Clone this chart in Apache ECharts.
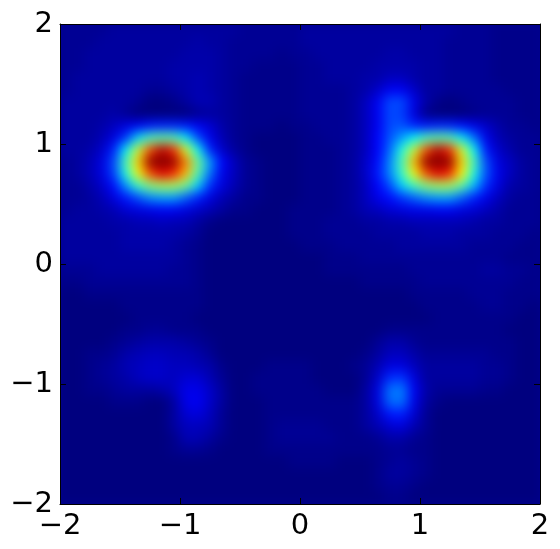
<!DOCTYPE html>
<html>
<head>
<meta charset="utf-8">
<title>heatmap</title>
<script src="https://cdn.jsdelivr.net/npm/echarts@6/dist/echarts.min.js"></script>
<style>
  html, body { margin: 0; padding: 0; background: #fff; }
  #clip { position: absolute; left: 60px; top: 24px; width: 480px; height: 480px; overflow: hidden; }
  #heat { position: absolute; left: -24px; top: -24px; width: 528px; height: 528px; filter: blur(6px); }
  #main { position: absolute; left: 0; top: 0; width: 560px; height: 549px; }
</style>
</head>
<body>
<div id="clip"><div id="heat"></div></div>
<div id="main"></div>
<script>
// values, top row first, 3-100 on the jet scale
var heatRows = [
  [5,5,5,5,6,6,6,6,6,6, 6,6,6,6,6,5,5,5,5,5, 6,6,6,6,6,6,6,6,6,6, 6,6,6,5,5,5,4,4,4,4],
  [5,5,5,6,6,6,6,6,6,6, 6,7,6,6,5,5,5,5,5,5, 6,6,6,6,6,6,6,6,6,6, 6,6,5,5,5,5,4,4,4,4],
  [5,5,6,6,6,6,6,6,6,6, 7,7,7,6,5,5,5,5,4,5, 5,6,6,6,6,6,6,7,7,6, 6,6,5,5,5,5,4,4,4,4],
  [5,5,6,6,6,6,6,6,6,7, 7,7,7,6,5,5,4,4,4,4, 5,5,6,6,6,6,7,7,7,7, 6,6,5,5,5,5,4,4,4,4],
  [5,6,6,6,6,6,6,6,6,7, 7,8,7,6,5,4,4,4,4,4, 5,5,6,6,6,7,7,9,9,7, 6,6,5,5,5,5,4,4,4,4],
  [5,6,6,6,6,6,6,5,5,6, 7,8,7,6,5,4,4,4,4,4, 5,5,5,5,6,7,10,14,14,10, 6,6,5,5,5,5,5,4,4,4],
  [6,6,6,6,6,6,5,2,2,4, 6,8,8,6,5,4,4,4,4,4, 5,5,5,5,6,9,14,22,22,13, 7,4,3,4,5,5,5,5,4,4],
  [6,6,6,6,7,5,3,0,0,1, 3,5,6,6,5,4,4,4,4,4, 5,5,5,5,6,9,14,22,21,12, 4,2,1,2,4,5,5,5,4,4],
  [6,6,6,7,9,12,14,17,18,18, 17,14,11,7,5,4,4,4,3,4, 4,5,5,5,6,9,14,22,23,18, 17,18,18,16,13,10,7,5,5,4],
  [6,6,6,8,12,20,36,46,48,47, 38,22,13,8,5,4,3,3,3,3, 4,4,5,5,6,9,15,23,30,39, 46,48,47,38,26,13,8,6,5,5],
  [6,6,7,10,18,38,58,80,94,84, 60,40,18,10,6,4,3,3,3,3, 4,4,4,5,6,9,15,25,42,58, 80,94,84,60,40,17,10,7,5,5],
  [5,6,8,12,22,46,68,98,100,98, 76,50,30,15,9,5,4,3,3,3, 4,4,4,5,6,10,16,28,46,70, 98,100,98,68,46,22,12,9,6,5],
  [5,6,8,12,21,42,62,80,90,84, 70,47,26,13,9,5,4,3,3,3, 4,4,4,5,6,10,17,28,44,62, 80,90,84,64,42,23,13,9,6,5],
  [5,5,7,10,16,29,44,52,55,55, 50,35,19,12,8,5,4,3,3,3, 4,4,4,5,6,9,15,22,35,45, 52,55,55,48,33,19,12,7,6,5],
  [5,5,6,8,12,17,22,28,30,30, 24,18,12,8,6,4,4,3,3,3, 4,4,4,5,6,9,13,16,20,24, 28,30,30,24,18,13,9,6,5,5],
  [5,6,6,7,8,11,12,13,14,14, 12,10,8,6,4,4,3,3,3,4, 4,4,4,5,6,8,9,11,12,13, 13,14,14,12,11,9,7,5,5,5],
  [6,6,6,6,7,7,8,8,9,8, 8,6,4,3,3,3,3,3,3,4, 4,4,5,5,5,6,6,7,7,8, 8,8,8,8,7,6,6,5,5,5],
  [6,6,6,6,6,7,7,7,7,7, 6,5,3,2,2,3,3,3,3,4, 4,4,5,5,5,5,6,6,6,6, 7,7,7,6,6,6,5,5,5,4],
  [6,6,6,6,6,7,7,7,7,6, 5,4,3,2,2,2,2,2,3,3, 4,4,4,5,5,5,5,5,6,6, 6,6,6,6,5,5,5,5,4,4],
  [6,6,6,6,6,6,6,6,6,6, 5,4,3,2,2,2,2,2,2,3, 3,3,4,4,4,5,5,5,5,5, 5,5,5,5,5,5,5,4,4,4],
  [5,5,5,6,6,6,6,6,6,5, 5,4,3,3,3,2,2,2,2,3, 3,3,4,4,4,4,4,4,4,5, 5,5,5,5,5,6,6,5,5,4],
  [4,4,5,5,5,5,5,5,5,5, 5,4,3,3,2,2,2,2,2,2, 3,3,3,3,3,4,4,4,4,4, 5,5,5,5,5,5,5,5,4,4],
  [3,3,4,4,4,4,4,4,4,4, 4,4,3,3,2,2,2,2,2,2, 3,3,3,3,3,3,3,3,3,4, 4,4,4,4,5,5,5,4,4,4],
  [3,3,3,3,3,4,4,4,4,4, 4,4,3,3,2,2,2,2,2,2, 2,3,3,3,3,3,2,2,3,3, 4,4,4,4,4,5,5,4,4,3],
  [3,3,3,3,3,3,4,4,4,4, 4,3,3,3,2,2,2,2,2,2, 2,3,3,3,3,3,3,3,3,3, 3,4,4,4,4,4,4,4,3,3],
  [3,3,3,3,3,4,4,5,5,4, 4,4,3,3,3,2,2,2,3,3, 3,3,3,3,3,3,3,4,4,4, 4,4,4,4,4,4,4,3,3,3],
  [3,3,3,3,4,5,6,7,7,7, 6,5,4,3,3,3,3,3,3,3, 3,3,3,3,3,3,5,7,7,5, 4,4,4,4,4,4,4,4,3,3],
  [3,3,4,4,5,7,8,9,9,8, 8,7,5,3,3,3,3,3,3,3, 3,3,3,3,3,4,6,9,9,7, 5,5,5,5,5,5,4,4,3,3],
  [3,3,4,5,6,8,9,10,10,9, 9,8,7,4,3,3,3,4,4,4, 4,3,3,3,4,5,8,12,12,9, 6,6,6,6,6,5,5,4,3,3],
  [3,3,4,5,6,7,9,10,10,9, 11,11,8,5,3,3,4,4,4,4, 4,3,3,3,3,5,10,19,20,12, 6,6,6,6,6,5,5,4,3,3],
  [3,3,4,4,5,6,6,6,7,9, 13,13,10,6,3,3,4,4,4,4, 4,4,3,3,3,6,12,26,27,14, 7,5,5,5,5,4,4,3,3,3],
  [3,3,3,3,4,4,4,2,3,6, 13,14,10,6,3,3,3,4,4,4, 4,4,4,4,4,6,12,25,26,13, 6,4,3,3,3,3,3,3,3,3],
  [3,3,3,3,3,3,2,2,2,6, 11,12,9,5,3,3,3,4,4,4, 4,4,4,4,4,6,10,17,18,11, 5,3,3,3,3,3,3,3,3,3],
  [3,3,3,3,3,3,2,2,3,6, 9,9,8,5,3,3,3,4,5,5, 5,5,4,4,4,6,8,11,12,8, 5,3,3,3,3,3,3,3,2,2],
  [3,3,3,3,3,3,3,3,3,4, 8,8,6,4,3,3,3,4,5,5, 5,5,5,4,4,4,5,7,7,5, 4,3,3,3,3,3,3,2,2,2],
  [3,3,3,3,3,3,3,3,3,4, 5,5,4,3,3,3,3,4,4,4, 4,4,4,4,4,4,4,5,5,4, 4,3,3,3,3,3,3,2,2,2],
  [3,3,3,3,3,3,3,3,3,3, 3,3,3,3,2,2,3,3,3,4, 4,4,4,3,3,3,4,5,6,5, 4,3,3,3,2,2,2,2,2,2],
  [3,3,3,3,3,3,3,3,3,3, 3,3,3,2,2,2,2,3,3,3, 3,3,3,3,3,3,4,6,6,5, 4,3,3,3,2,2,2,2,2,2],
  [3,3,3,3,3,3,3,3,3,3, 3,3,2,2,2,2,2,2,3,3, 3,3,3,3,3,3,4,5,5,4, 3,3,3,3,2,2,2,2,2,2],
  [2,2,2,3,3,3,3,3,3,3, 3,2,2,2,2,2,2,2,2,2, 3,3,3,3,3,3,3,4,4,3, 3,3,3,2,2,2,2,2,2,2]
];
var jetColors = ['#00007f', '#0000ff', '#0080ff', '#00ffff', '#80ff80', '#ffff00', '#ff8000', '#ff0000', '#7f0000'];
var axisMin = -2;
var axisMax = 2;

var cols = heatRows[0].map(function(v, i) { return i; });
var rows = heatRows.map(function(v, i) { return i; });
var cells = [];
heatRows.forEach(function(row, r) {
  row.forEach(function(v, c) {
    cells.push([c, r, v]);
  });
});

function minus(v) {
  return String(v).replace('-', '\u2212');
}

// heat layer, blurred by css so the cells read as a smooth image
var heatChart = echarts.init(document.getElementById('heat'));
heatChart.setOption({
  animation: false,
  backgroundColor: '#000090',
  grid: { left: 24, right: 24, top: 24, bottom: 24 },
  xAxis: { type: 'category', data: cols, show: false },
  yAxis: { type: 'category', data: rows, show: false, inverse: true },
  visualMap: { show: false, min: 3, max: 100, inRange: { color: jetColors } },
  series: [{
    type: 'heatmap',
    data: cells,
    progressive: 0,
    itemStyle: { borderWidth: 0 }
  }]
});

// frame, ticks and labels on top
var labelStyle = { fontFamily: 'DejaVu Sans', fontSize: 29, color: '#000' };
var lineStyle = { color: '#000', width: 1 };
function frameAxis(position, showLabel, margin) {
  return {
    type: 'value',
    position: position,
    min: axisMin,
    max: axisMax,
    interval: 1,
    splitLine: { show: false },
    axisLine: { show: true, onZero: false, lineStyle: lineStyle },
    axisTick: { show: true, inside: true, length: 6, lineStyle: lineStyle },
    axisLabel: Object.assign({ show: showLabel, margin: margin, formatter: minus, showMinLabel: true, showMaxLabel: true }, labelStyle)
  };
}
var mainChart = echarts.init(document.getElementById('main'));
mainChart.setOption({
  animation: false,
  grid: { left: 60, right: 20, top: 24, bottom: 45 },
  xAxis: [frameAxis('bottom', true, 8), frameAxis('top', false, 8)],
  yAxis: [frameAxis('left', true, 7), frameAxis('right', false, 7)],
  series: []
});
</script>
</body>
</html>
